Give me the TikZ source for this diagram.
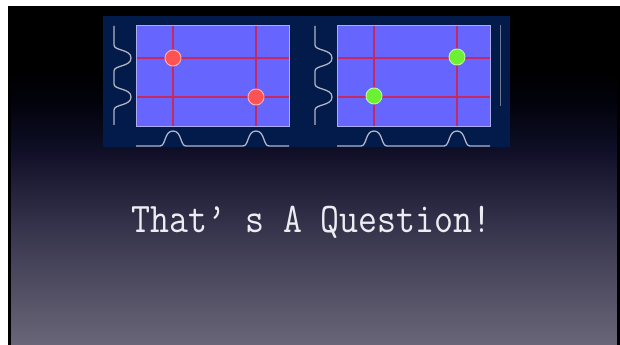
\documentclass[tikz,border=0pt]{standalone}
\usepackage{fontspec}
\usepackage{xcolor}
\usepackage{graphicx}
\usepackage{tikz}
\usetikzlibrary{positioning,calc}
\definecolor{slidenavy}{HTML}{021B4B}
\definecolor{gridblue}{HTML}{6666FF}
\definecolor{gridedge}{HTML}{ABABEE}
\definecolor{gridred}{HTML}{C42A62}
\definecolor{dotred}{HTML}{FF5252}
\definecolor{dotgreen}{HTML}{6CF032}
\definecolor{wavegrey}{HTML}{B4B4C4}
\definecolor{textwhite}{HTML}{ECECF2}
\definecolor{bgbot}{HTML}{6A6679}
\definecolor{bgmid}{HTML}{37354D}
\definecolor{bgdark}{HTML}{0E0E26}
\definecolor{bgnight}{HTML}{02020C}
% slide background: path box maps to 25bp..75bp (bottom..top)
\pgfdeclareverticalshading{slidebg}{100bp}{color(0bp)=(bgbot); color(25bp)=(bgbot);
  color(42bp)=(bgmid); color(54bp)=(bgdark); color(61bp)=(bgnight);
  color(66bp)=(black); color(100bp)=(black)}

\begin{document}
\begin{tikzpicture}[
  x=0.03cm, y=-0.03cm,
  gridbase/.style={draw=gridedge, line width=0.8pt},
  gridline/.style={draw=gridred, line width=1pt},
  wave/.style={draw=wavegrey, line width=1.1pt},
  dot/.style={circle, minimum size=0.48cm, inner sep=0pt, line width=0.8pt},
]
% All coordinates are pixels of a 620x345 slide (y runs downward).
\useasboundingbox (0,0) rectangle (620,345);
\fill[white] (0,0) rectangle (620,345);

% --- Slide background + dark side edges
\shade[shading=slidebg] (8,7) rectangle (620,345);
\fill[black] (8,7) rectangle (11,345);
\fill[black] (617,7) rectangle (620,345);

% --- Navy panel holding both grids
\fill[slidenavy] (103,16) rectangle (510,147);

\def\gl{136}  % grid left
\def\gr{289}  % grid right
\def\gt{25}   % grid top
\def\gb{126}  % grid bottom
\def\wy{146}  % bottom wave baseline
\def\wx{114}  % left wave baseline

% --- Two grids, second one shifted right by 201px
\foreach \p/\dx in {0/0, 1/201} {
  \begin{scope}[shift={(\dx,0)}]
    \fill[gridblue] (\gl,\gt) rectangle (\gr,\gb);
    \foreach \gx in {173,256}
      \draw[gridline] (\gx,\gt) -- (\gx,\gb);
    \foreach \gy in {58,97}
      \draw[gridline] (\gl,\gy) -- (\gr,\gy);
    \draw[gridbase] (\gl,\gt) rectangle (\gr,\gb);
    % left wave, bumps at the row lines
    \draw[wave] (\wx,26) -- (\wx,45)
      .. controls (\wx,51) and (\wx+17,49) .. (\wx+17,58)
      .. controls (\wx+17,67) and (\wx,65) .. (\wx,71) -- (\wx,84)
      .. controls (\wx,90) and (\wx+17,88) .. (\wx+17,97)
      .. controls (\wx+17,106) and (\wx,104) .. (\wx,110) -- (\wx,125);
    % bottom wave, bumps at the column lines
    \draw[wave] (\gl,\wy) -- (160,\wy)
      .. controls (166,\wy) and (164,\wy-15) .. (173,\wy-15)
      .. controls (182,\wy-15) and (180,\wy) .. (186,\wy) -- (243,\wy)
      .. controls (249,\wy) and (247,\wy-15) .. (256,\wy-15)
      .. controls (265,\wy-15) and (263,\wy) .. (269,\wy) -- (\gr,\wy);
  \end{scope}
}
\draw[draw=wavegrey!60!slidenavy, line width=0.5pt] (500,25) -- (500,106);

% --- Dots
\node[dot, fill=dotred, draw=dotred!45!white] (redA) at (173,58) {};
\node[dot, fill=dotred, draw=dotred!45!white] (redB) at (256,97) {};
\node[dot, fill=dotgreen, draw=dotgreen!45!white] (greenA) at (457,57) {};
\node[dot, fill=dotgreen, draw=dotgreen!45!white] (greenB) at (374,96) {};

% --- Caption (condensed monospace)
\node[font=\ttfamily\fontsize{36}{42}\selectfont,
  text=textwhite, anchor=base, inner sep=0pt]
  (question) at (311.5,232.7) {\scalebox{0.873}[1]{That’ s A Question!}};
\end{tikzpicture}
\end{document}
